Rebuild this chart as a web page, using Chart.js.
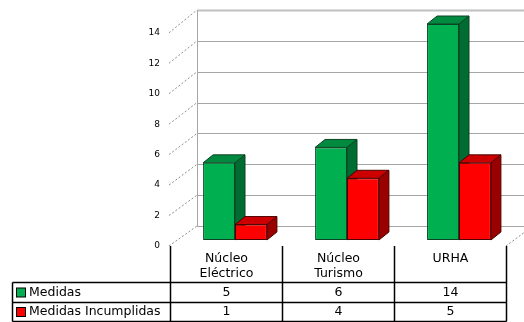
<!DOCTYPE html>
<html>
<head>
<meta charset="utf-8">
<script src="https://cdn.jsdelivr.net/npm/chart.js@4/dist/chart.umd.min.js"></script>
<style>
  html, body { margin: 0; padding: 0; background: #fff; }
  #wrap { width: 524px; height: 322px; }
</style>
</head>
<body>
<div id="wrap"><canvas id="medidasChart" width="524" height="322"></canvas></div>
<script>
// Medidas por área
const categories = [['Núcleo', 'Eléctrico'], ['Núcleo', 'Turismo'], ['URHA']];
const seriesNames = ['Medidas', 'Medidas Incumplidas'];
const medidas = [5, 6, 14];
const incumplidas = [1, 4, 5];
const yTicks = [0, 2, 4, 6, 8, 10, 12, 14];

// offsets of the fake 3D box, relative to the plane of the bar fronts
const WALL = { dx: 18, dy: -14 };
const FRONT = { dx: -9, dy: 6 };
const DEPTH = { dx: 10, dy: -8 };

const shades = [
  { front: '#00b050', top: '#008a3f', side: '#006c31', edge: '#0b4322' },
  { front: '#ff0000', top: '#cc0000', side: '#990000', edge: '#4d0000' }
];

const FONT = '"DejaVu Sans", sans-serif';

function poly(ctx, pts, fill, stroke) {
  ctx.beginPath();
  ctx.moveTo(pts[0][0], pts[0][1]);
  for (let k = 1; k < pts.length; k++) ctx.lineTo(pts[k][0], pts[k][1]);
  ctx.closePath();
  ctx.fillStyle = fill;
  ctx.fill();
  ctx.lineWidth = 1;
  ctx.strokeStyle = stroke;
  ctx.stroke();
}

const box3d = {
  id: 'box3d',
  beforeDatasetsDraw(chart) {
    const ctx = chart.ctx;
    const xs = chart.scales.x, ys = chart.scales.y;
    const wallLeft = xs.left + WALL.dx;
    const frontLeft = xs.left + FRONT.dx;
    ctx.save();

    // back wall grid
    yTicks.forEach(v => {
      const y = Math.round(ys.getPixelForValue(v) + WALL.dy) + 0.5;
      ctx.beginPath();
      ctx.moveTo(wallLeft, y);
      ctx.lineTo(chart.width, y);
      ctx.strokeStyle = v === 14 ? '#c0c0c0' : '#a6a6a6';
      ctx.lineWidth = v === 14 ? 2 : 1;
      ctx.stroke();
    });
    ctx.beginPath();
    ctx.moveTo(Math.round(wallLeft) + 0.5, ys.getPixelForValue(14) + WALL.dy);
    ctx.lineTo(Math.round(wallLeft) + 0.5, ys.getPixelForValue(0) + WALL.dy);
    ctx.strokeStyle = '#a6a6a6';
    ctx.lineWidth = 1;
    ctx.stroke();

    // dashed leaders from the tick labels to the wall
    ctx.setLineDash([2, 2]);
    ctx.strokeStyle = '#8c8c8c';
    yTicks.forEach(v => {
      const yb = ys.getPixelForValue(v) + WALL.dy;
      const yf = ys.getPixelForValue(v) + FRONT.dy + v * 0.2;
      ctx.beginPath();
      ctx.moveTo(frontLeft - 1, yf);
      ctx.lineTo(wallLeft, yb);
      ctx.stroke();
    });
    // right edge of the floor
    const floorFrontY = ys.getPixelForValue(0) + FRONT.dy;
    ctx.beginPath();
    ctx.moveTo(xs.right + FRONT.dx, floorFrontY);
    ctx.lineTo(xs.right + WALL.dx, ys.getPixelForValue(0) + WALL.dy);
    ctx.stroke();
    ctx.setLineDash([]);

    // tick labels
    ctx.fillStyle = '#000';
    ctx.font = '9px ' + FONT;
    ctx.textAlign = 'right';
    ctx.textBaseline = 'middle';
    yTicks.forEach(v => {
      const yf = ys.getPixelForValue(v) + FRONT.dy + v * 0.2;
      ctx.fillText(String(v), frontLeft - 10, yf);
    });

    // bar tops and sides, back to front
    categories.forEach((c, j) => {
      chart.data.datasets.forEach((ds, i) => {
        const bar = chart.getDatasetMeta(i).data[j];
        const l = bar.x - bar.width / 2, r = bar.x + bar.width / 2;
        const t = bar.y, b = bar.base;
        const s = shades[i];
        poly(ctx, [[l, t], [r, t], [r + DEPTH.dx, t + DEPTH.dy], [l + DEPTH.dx, t + DEPTH.dy]], s.top, s.edge);
        poly(ctx, [[r, t], [r + DEPTH.dx, t + DEPTH.dy], [r + DEPTH.dx, b + DEPTH.dy], [r, b]], s.side, s.edge);
      });
    });
    ctx.restore();
  },

  afterDraw(chart) {
    const ctx = chart.ctx;
    const xs = chart.scales.x, ys = chart.scales.y;
    const step = (xs.right - xs.left) / categories.length;
    const cols = [];
    for (let j = 0; j <= categories.length; j++) cols.push(Math.round(xs.left + FRONT.dx + j * step) + 0.5);
    const top = Math.round(ys.getPixelForValue(0) + FRONT.dy);
    const rowTop = 282.5, rowMid = 302.5, rowBot = 321.5, tableLeft = 12.5;

    ctx.save();
    ctx.strokeStyle = '#000';
    ctx.lineWidth = 1.5;
    ctx.beginPath();
    cols.forEach(x => { ctx.moveTo(x, top); ctx.lineTo(x, rowBot); });
    [rowTop, rowMid, rowBot].forEach(y => { ctx.moveTo(tableLeft, y); ctx.lineTo(cols[cols.length - 1], y); });
    ctx.moveTo(tableLeft, rowTop);
    ctx.lineTo(tableLeft, rowBot);
    ctx.stroke();

    ctx.fillStyle = '#000';
    ctx.font = '12.5px ' + FONT;
    ctx.textAlign = 'center';
    ctx.textBaseline = 'middle';
    categories.forEach((lines, j) => {
      const cx = (cols[j] + cols[j + 1]) / 2;
      lines.forEach((ln, k) => ctx.fillText(ln, cx, 259 + k * 15));
      ctx.fillText(String(medidas[j]), cx, 292.5);
      ctx.fillText(String(incumplidas[j]), cx, 312);
    });

    ctx.textAlign = 'left';
    seriesNames.forEach((name, i) => {
      const yc = i === 0 ? 292.5 : 312;
      ctx.fillStyle = shades[i].front;
      ctx.fillRect(16.5, yc - 4.5, 9, 9);
      ctx.strokeStyle = '#000';
      ctx.lineWidth = 1;
      ctx.strokeRect(16.5, yc - 4.5, 9, 9);
      ctx.fillStyle = '#000';
      ctx.fillText(name, 29, yc);
    });
    ctx.restore();
  }
};

new Chart(document.getElementById('medidasChart'), {
  type: 'bar',
  data: {
    labels: categories,
    datasets: [
      {
        label: seriesNames[0],
        data: medidas,
        backgroundColor: shades[0].front,
        borderColor: shades[0].edge,
        borderWidth: 1,
        borderSkipped: false
      },
      {
        label: seriesNames[1],
        data: incumplidas,
        backgroundColor: shades[1].front,
        borderColor: shades[1].edge,
        borderWidth: 1,
        borderSkipped: false
      }
    ]
  },
  options: {
    responsive: false,
    animation: false,
    devicePixelRatio: 1,
    layout: { padding: { left: 179, right: 9, top: 24, bottom: 82 } },
    datasets: { bar: { categoryPercentage: 0.57, barPercentage: 1 } },
    scales: {
      x: { display: false },
      y: { display: false, min: 0, max: 14 }
    },
    plugins: {
      legend: { display: false },
      tooltip: { enabled: false }
    }
  },
  plugins: [box3d]
});
</script>
</body>
</html>
